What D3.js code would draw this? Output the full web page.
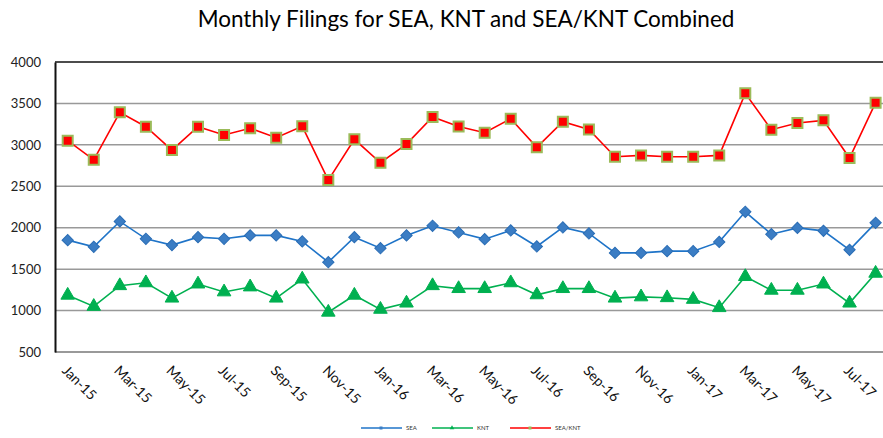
<!DOCTYPE html>
<html>
<head>
<meta charset="utf-8">
<script src="https://cdn.jsdelivr.net/npm/d3@7"></script>
<style>
  body { margin: 0; background: #fff; }
  svg { display: block; font-family: Lato, "Open Sans", sans-serif; }
</style>
</head>
<body>
<svg width="883" height="438"></svg>
<script>
// ---- data ----
var months = [
  "Jan-15","Feb-15","Mar-15","Apr-15","May-15","Jun-15","Jul-15","Aug-15","Sep-15","Oct-15","Nov-15","Dec-15",
  "Jan-16","Feb-16","Mar-16","Apr-16","May-16","Jun-16","Jul-16","Aug-16","Sep-16","Oct-16","Nov-16","Dec-16",
  "Jan-17","Feb-17","Mar-17","Apr-17","May-17","Jun-17","Jul-17","Aug-17"
];
var sea = [1850,1770,2076,1866,1790,1886,1866,1907,1907,1834,1584,1886,
           1753,1907,2023,1943,1862,1967,1774,2003,1931,1696,1696,1717,
           1717,1829,2192,1922,1998,1962,1733,2059];
var knt = [1185,1050,1300,1335,1150,1320,1225,1285,1150,1380,980,1185,
           1015,1090,1300,1265,1265,1335,1190,1265,1265,1150,1165,1155,
           1135,1035,1410,1245,1245,1320,1090,1450];
var combined = [3050,2820,3393,3219,2937,3219,3119,3200,3086,3224,2575,3067,
                2784,3010,3336,3222,3147,3316,2970,3279,3186,2856,2873,2856,
                2856,2873,3622,3183,3264,3296,2841,3509];
var yTicks = [500,1000,1500,2000,2500,3000,3500,4000];
var title = "Monthly Filings for SEA, KNT and SEA/KNT Combined";

var series = [
  { name: "SEA", values: sea, line: "#1f74c8", fill: "#3b7dc4", stroke: "#2a6db5", shape: d3.symbolSquare, size: 64, rot: 45 },
  { name: "KNT", values: knt, line: "#00b050", fill: "#00b050", stroke: "#00b050", shape: d3.symbolTriangle, size: 80, rot: 0 },
  { name: "SEA/KNT", values: combined, line: "#ff0000", fill: "#ff0000", stroke: "#9bbb59", shape: d3.symbolSquare, size: 100, rot: 0 }
];

// ---- layout ----
var svg = d3.select("svg");
var plot = { left: 55, right: 883, top: 62, bottom: 352 };

var xScale = d3.scalePoint().domain(months).range([67.7, 875.6]);
var yScale = d3.scaleLinear().domain([500, 4000]).range([plot.bottom, plot.top]);

// title
svg.append("text")
  .attr("x", 466).attr("y", 27)
  .attr("text-anchor", "middle")
  .attr("font-size", 22.5)
  .attr("fill", "#000")
  .text(title);

// gridlines
svg.append("g").selectAll("line")
  .data(yTicks)
  .join("line")
  .attr("x1", plot.left).attr("x2", plot.right)
  .attr("y1", d => yScale(d)).attr("y2", d => yScale(d))
  .attr("stroke", d => d === 4000 ? "#111" : "#999")
  .attr("stroke-width", d => d === 500 ? 2 : 1.5);

// y axis
var yAxis = d3.axisLeft(yScale).tickValues(yTicks).tickFormat(d3.format("d"))
  .tickSize(0).tickPadding(14);
var yg = svg.append("g")
  .attr("transform", "translate(" + plot.left + ",0)")
  .call(yAxis);
yg.select(".domain").attr("stroke", "#111").attr("stroke-width", 2);
yg.selectAll("text").attr("font-size", 13).attr("fill", "#222")
  .attr("font-family", "Lato, sans-serif");

// x axis labels (every other month)
var xg = svg.append("g");
xg.selectAll("text")
  .data(months.filter((d, i) => i % 2 === 0))
  .join("text")
  .attr("transform", d => "translate(" + (xScale(d) - 3) + "," + 368 + ") rotate(45)")
  .attr("dy", "0.35em")
  .attr("font-size", 14)
  .attr("fill", "#111")
  .text(d => d);

// lines and markers
var line = d3.line()
  .x((d, i) => xScale(months[i]))
  .y(d => yScale(d));

series.forEach(function (s) {
  var g = svg.append("g");
  g.append("path")
    .attr("d", line(s.values))
    .attr("fill", "none")
    .attr("stroke", s.line)
    .attr("stroke-width", 1.6);
  g.selectAll("path.m")
    .data(s.values)
    .join("path")
    .attr("class", "m")
    .attr("transform", (d, i) => "translate(" + xScale(months[i]) + "," + yScale(d) + ") rotate(" + s.rot + ")")
    .attr("d", d3.symbol().type(s.shape).size(s.size))
    .attr("fill", s.fill)
    .attr("stroke", s.stroke)
    .attr("stroke-width", s.name === "SEA/KNT" ? 2 : 1);
});

// legend
var legendX = [361, 432, 510];
var lg = svg.append("g");
series.forEach(function (s, i) {
  var x0 = legendX[i];
  lg.append("line")
    .attr("x1", x0).attr("x2", x0 + 41)
    .attr("y1", 428).attr("y2", 428)
    .attr("stroke", s.line).attr("stroke-width", 1.6);
  lg.append("path")
    .attr("transform", "translate(" + (x0 + 20) + ",428)")
    .attr("d", d3.symbol().type(s.shape).size(9))
    .attr("fill", s.name === "SEA/KNT" ? "#9bbb59" : s.fill);
  lg.append("text")
    .attr("x", x0 + 45).attr("y", 428)
    .attr("dy", "0.35em")
    .attr("font-size", 6)
    .attr("fill", "#333")
    .text(s.name);
});
</script>
</body>
</html>
